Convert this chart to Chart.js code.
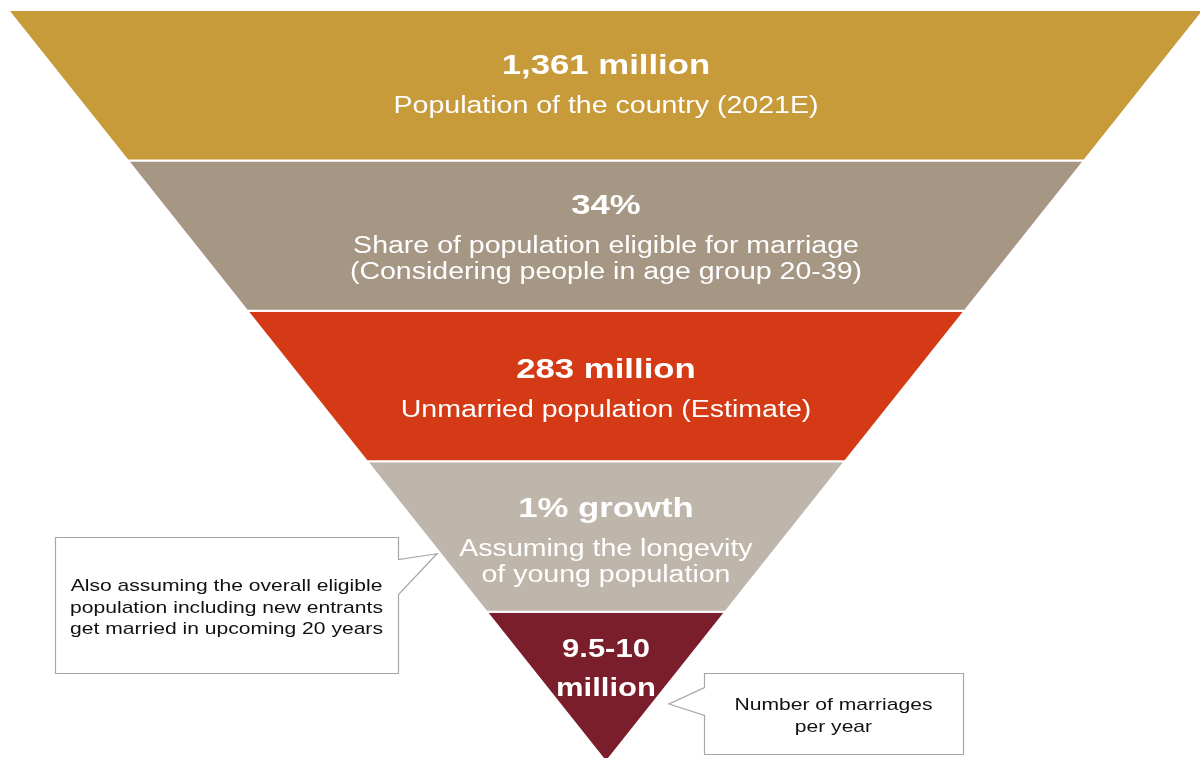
<!DOCTYPE html>
<html>
<head>
<meta charset="utf-8">
<title>Marriage market funnel</title>
<script src="https://cdn.jsdelivr.net/npm/chart.js@4.4.1/dist/chart.umd.min.js"></script>
<style>
  html, body { margin: 0; padding: 0; background: #ffffff; }
  #wrap { position: relative; width: 1200px; height: 758px; }
</style>
</head>
<body>
<div id="wrap"><canvas id="funnel"></canvas></div>
<script>
// ---- Funnel stages (top to bottom) ----
const stageTitles = [
  ["1,361 million"],
  ["34%"],
  ["283 million"],
  ["1% growth"],
  ["9.5-10", "million"]
];
const stageNotes = [
  ["Population of the country (2021E)"],
  ["Share of population eligible for marriage", "(Considering people in age group 20-39)"],
  ["Unmarried population (Estimate)"],
  ["Assuming the longevity", "of young population"],
  []
];
// Half-width of the funnel at the top of each stage; it narrows to 0 at the tip.
const stageTopWidths = [5, 4, 3, 2, 1];

// ---- Side notes ----
const noteLeftLines = [
  "Also assuming the overall eligible",
  "population including new entrants",
  "get married in upcoming 20 years"
];
const noteRightLines = [
  "Number of marriages",
  "per year"
];

// ---- Styling ----
const stageColors = ["#C79A3A", "#A69784", "#D43A16", "#BEB6AA", "#7B1E2B"];
const FONT = '"Liberation Sans", Arial, Helvetica, sans-serif';
const TEXT_STRETCH = 1.24;               // wide lettering
const TEXT_NUDGE = 2;                    // px, optical centring of glyphs
const titleFont = [28, 28, 28, 28, 25];  // px, bold
const noteFont = 23;                     // px
const calloutFont = 17;                  // px
const labelAnchor = [0.495, 0.51, 0.515, 0.525, 0.37]; // fraction down each stage

// Callout shapes in chart units: box [x0, x1, y0, y1], tip [x, y], wedge base [yA, yB]
const calloutLeft = { box: [-4.607, -1.739, 3.504, 4.408], tip: [-1.413, 3.615], base: [3.648, 3.883], side: "right" };
const calloutRight = { box: [0.819, 2.985, 4.408, 4.947], tip: [0.527, 4.614], base: [4.502, 4.688], side: "left" };

// Build one closed trapezoid per stage
const datasets = stageTopWidths.map((w, i) => {
  const wb = i + 1 < stageTopWidths.length ? stageTopWidths[i + 1] : 0;
  const pts = [
    { x: -w, y: i },
    { x: w, y: i },
    { x: wb, y: i + 1 },
    { x: -wb, y: i + 1 },
    { x: -w, y: i }
  ];
  return {
    label: stageTitles[i].join(" "),
    data: pts,
    showLine: true,
    tension: 0,
    pointRadius: 0,
    pointHoverRadius: 0,
    borderColor: "#ffffff",
    borderWidth: 2,
    backgroundColor: stageColors[i],
    fill: "shape"
  };
});

function drawStretched(ctx, text, x, y) {
  ctx.save();
  ctx.translate(x, y + TEXT_NUDGE);
  ctx.scale(TEXT_STRETCH, 1);
  ctx.fillText(text, 0, 0);
  ctx.restore();
}

const funnelLabels = {
  id: "funnelLabels",
  afterDatasetsDraw(chart) {
    const { ctx, scales: { x, y } } = chart;
    ctx.save();
    ctx.textAlign = "center";
    ctx.textBaseline = "middle";
    ctx.fillStyle = "#ffffff";
    const cx = x.getPixelForValue(0);
    stageTitles.forEach((titles, i) => {
      const notes = stageNotes[i];
      // vertical steps between line centres
      const rows = [];
      titles.forEach((t, k) => rows.push({ text: t, bold: true, gap: k === 0 ? 0 : 39 }));
      notes.forEach((t, k) => rows.push({ text: t, bold: false, gap: k === 0 ? 41 : 25.5 }));
      let total = 0;
      rows.forEach(r => total += r.gap);
      const anchor = y.getPixelForValue(i + labelAnchor[i]);
      let cy = anchor - total / 2;
      rows.forEach(r => {
        cy += r.gap;
        ctx.font = r.bold ? `bold ${titleFont[i]}px ${FONT}` : `${noteFont}px ${FONT}`;
        drawStretched(ctx, r.text, cx, cy);
      });
    });
    ctx.restore();
  }
};

function drawCallout(chart, c, lines) {
  const { ctx, scales: { x, y } } = chart;
  const x0 = x.getPixelForValue(c.box[0]), x1 = x.getPixelForValue(c.box[1]);
  const y0 = y.getPixelForValue(c.box[2]), y1 = y.getPixelForValue(c.box[3]);
  const tx = x.getPixelForValue(c.tip[0]), ty = y.getPixelForValue(c.tip[1]);
  const bA = y.getPixelForValue(c.base[0]), bB = y.getPixelForValue(c.base[1]);
  const r = v => Math.round(v) + 0.5;
  ctx.save();
  ctx.beginPath();
  ctx.moveTo(r(x0), r(y0));
  ctx.lineTo(r(x1), r(y0));
  if (c.side === "right") {
    ctx.lineTo(r(x1), r(bA));
    ctx.lineTo(tx, ty);
    ctx.lineTo(r(x1), r(bB));
  }
  ctx.lineTo(r(x1), r(y1));
  ctx.lineTo(r(x0), r(y1));
  if (c.side === "left") {
    ctx.lineTo(r(x0), r(bB));
    ctx.lineTo(tx, ty);
    ctx.lineTo(r(x0), r(bA));
  }
  ctx.closePath();
  ctx.fillStyle = "#ffffff";
  ctx.fill();
  ctx.strokeStyle = "#A6A6A6";
  ctx.lineWidth = 1.2;
  ctx.stroke();

  ctx.fillStyle = "#111111";
  ctx.textAlign = "center";
  ctx.textBaseline = "middle";
  ctx.font = `${calloutFont}px ${FONT}`;
  const lh = 21.5;
  const mx = (x0 + x1) / 2;
  const my = (y0 + y1) / 2 + 1;
  lines.forEach((t, k) => {
    drawStretched(ctx, t, mx, my + (k - (lines.length - 1) / 2) * lh);
  });
  ctx.restore();
}

const callouts = {
  id: "callouts",
  afterDraw(chart) {
    drawCallout(chart, calloutLeft, noteLeftLines);
    drawCallout(chart, calloutRight, noteRightLines);
  }
};

new Chart(document.getElementById("funnel"), {
  type: "scatter",
  data: { datasets },
  options: {
    responsive: true,
    maintainAspectRatio: false,
    animation: false,
    layout: { padding: 0 },
    events: [],
    scales: {
      x: { type: "linear", display: false, min: -5.067, max: 4.967 },
      y: { type: "linear", display: false, reverse: true, min: -0.0665, max: 4.973 }
    },
    plugins: {
      legend: { display: false },
      tooltip: { enabled: false }
    }
  },
  plugins: [funnelLabels, callouts]
});
</script>
</body>
</html>
